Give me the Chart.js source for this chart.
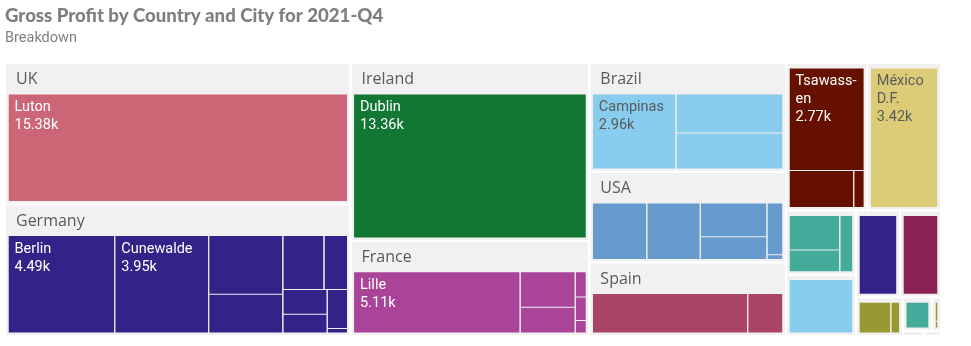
<!DOCTYPE html>
<html>
<head>
<meta charset="utf-8">
<script src="https://cdn.jsdelivr.net/npm/chart.js@4.4.1/dist/chart.umd.min.js"></script>
<style>
  html, body { margin: 0; padding: 0; background: #ffffff; }
  canvas { display: block; }
</style>
</head>
<body>
<canvas id="c" width="971" height="346"></canvas>
<script>
// ---------------- DATA ----------------
const chartTitle = 'Gross Profit by Country and City for 2021-Q4';
const chartSubtitle = 'Breakdown';

// Countries (names of the small unlabeled groups cannot be read from the picture)
const countries = ['UK', 'Germany', 'Ireland', 'France', 'Brazil', 'USA', 'Spain', 'Canada', 'Mexico',
                   '', '', '', '', '', '', '', '', ''];
const countryColors = ['#cc6677', '#332288', '#117733', '#aa4499', '#88ccee', '#6699cc', '#aa4466', '#661100', '#ddcc77',
                       '#44aa99', '#88ccee', '#332288', '#882255', '#999933', '#44aa99', '#999933', '#6699cc', '#aa4466'];

// Cities: index of their country, name (blank where no label is shown), gross profit
const cityCountry = [0,
  1, 1, 1, 1, 1, 1, 1, 1, 1, 1,
  2,
  3, 3, 3, 3, 3, 3,
  4, 4, 4,
  5, 5, 5, 5, 5, 5,
  6, 6,
  7, 7, 7,
  8,
  9, 9, 9,
  10, 11, 12,
  13, 13,
  14,
  15, 15,
  16, 17];
const cities = ['Luton',
  'Berlin', 'Cunewalde', '', '', '', '', '', '', '', '',
  'Dublin',
  'Lille', '', '', '', '', '',
  'Campinas', '', '',
  '', '', '', '', '', '',
  '', '',
  'Tsawassen', '', '',
  'México D.F.',
  '', '', '',
  '', '', '',
  '', '',
  '',
  '', '',
  '', ''];
const grossProfit = [15380,
  4490, 3950, 1880, 1240, 960, 550, 470, 360, 340, 40,
  13360,
  5110, 980, 710, 140, 130, 70,
  2960, 1970, 1810,
  1600, 1570, 1170, 790, 430, 40,
  3700, 840,
  2770, 860, 140,
  3420,
  690, 430, 290,
  1350, 1200, 1120,
  445, 125,
  310,
  70, 25,
  33, 27];

// ---------------- LAYOUT (squarified treemap, golden ratio) ----------------
const AREA_W = 936, AREA_H = 274;
const PHI = (1 + Math.sqrt(5)) / 2;
const TITLE_FONT = 'Lato, "Open Sans", sans-serif';
const HEADER_FONT = '"Open Sans", Roboto, sans-serif';
const LABEL_FONT = 'Roboto, "Open Sans", sans-serif';

function squarify(items, x0, y0, x1, y1) {
  const out = [];
  const n = items.length;
  let value = items.reduce((s, d) => s + d.value, 0);
  let i0 = 0, i1 = 0;
  while (i0 < n) {
    const dx = x1 - x0, dy = y1 - y0;
    let sumValue;
    do { sumValue = items[i1++].value; } while (!sumValue && i1 < n);
    let minV = sumValue, maxV = sumValue;
    const alpha = Math.max(dy / dx, dx / dy) / (value * PHI);
    let beta = sumValue * sumValue * alpha;
    let minRatio = Math.max(maxV / beta, beta / minV);
    for (; i1 < n; ++i1) {
      const v = items[i1].value;
      sumValue += v;
      if (v < minV) minV = v;
      if (v > maxV) maxV = v;
      beta = sumValue * sumValue * alpha;
      const newRatio = Math.max(maxV / beta, beta / minV);
      if (newRatio > minRatio) { sumValue -= v; break; }
      minRatio = newRatio;
    }
    const row = items.slice(i0, i1);
    if (dx < dy) {
      const ny = value ? y0 + dy * sumValue / value : y1;
      const k = sumValue ? (x1 - x0) / sumValue : 0;
      let x = x0;
      row.forEach(d => { const nx = x + d.value * k; out.push({ d, x0: x, y0: y0, x1: nx, y1: ny }); x = nx; });
      y0 = ny;
    } else {
      const nx = value ? x0 + dx * sumValue / value : x1;
      const k = sumValue ? (y1 - y0) / sumValue : 0;
      let y = y0;
      row.forEach(d => { const ny = y + d.value * k; out.push({ d, x0: x0, y0: y, x1: nx, y1: ny }); y = ny; });
      x0 = nx;
    }
    value -= sumValue;
    i0 = i1;
  }
  return out;
}

const groups = countries.map((name, i) => ({ name, color: countryColors[i], children: [], value: 0 }));
cities.forEach((name, i) => groups[cityCountry[i]].children.push({ name, value: grossProfit[i] }));
groups.forEach(g => {
  g.children.sort((a, b) => b.value - a.value);
  g.value = g.children.reduce((s, c) => s + c.value, 0);
});
const sortedGroups = groups.slice().sort((a, b) => b.value - a.value);

const groupRects = squarify(sortedGroups, 0, 0, AREA_W, AREA_H).map(r => ({
  g: r.d, x0: r.x0 + 1, y0: r.y0 + 1, x1: r.x1 - 1, y1: r.y1 - 1
}));
const cellRects = [];
groupRects.forEach(gr => {
  const w = gr.x1 - gr.x0, h = gr.y1 - gr.y0;
  gr.header = !!gr.g.name && w >= 100 && h >= 60;
  const top = gr.header ? 30 : 4;
  const ix0 = gr.x0 + 2, ix1 = gr.x1 - 2, iy0 = gr.y0 + top, iy1 = gr.y1 - 2;
  if (ix1 - ix0 < 1 || iy1 - iy0 < 1) return;
  squarify(gr.g.children, ix0, iy0, ix1, iy1).forEach(r => {
    cellRects.push({ c: r.d, color: gr.g.color, x0: r.x0 + 0.5, y0: r.y0 + 0.5, x1: r.x1 - 0.5, y1: r.y1 - 0.5 });
  });
});

function rectDataset(r, color, order) {
  return {
    data: [{ x: r.x0, y: r.y0 }, { x: r.x1, y: r.y0 }],
    backgroundColor: color,
    borderColor: 'rgba(0,0,0,0)',
    borderWidth: 0,
    pointRadius: 0,
    pointHoverRadius: 0,
    tension: 0,
    fill: { value: r.y1 },
    order
  };
}

const datasets = [
  ...cellRects.map(r => rectDataset(r, r.color, 0)),
  ...groupRects.map(r => rectDataset(r, '#f1f1f1', 1))
];

function isLight(hex) {
  const n = parseInt(hex.slice(1), 16);
  const r = (n >> 16) & 255, g = (n >> 8) & 255, b = n & 255;
  return (0.299 * r + 0.587 * g + 0.114 * b) > 160;
}

function wrapText(ctx, text, maxW) {
  const words = text.split(' ');
  const lines = [];
  let cur = '';
  words.forEach(w => {
    const test = cur ? cur + ' ' + w : w;
    if (!cur || ctx.measureText(test).width <= maxW) cur = test;
    else { lines.push(cur); cur = w; }
  });
  if (cur) lines.push(cur);
  const out = [];
  lines.forEach(line => {
    let rest = line;
    while (ctx.measureText(rest).width > maxW && rest.length > 2) {
      let k = rest.length - 1;
      while (k > 1 && ctx.measureText(rest.slice(0, k) + '-').width > maxW) k--;
      out.push(rest.slice(0, k) + '-');
      rest = rest.slice(k);
    }
    out.push(rest);
  });
  return out;
}

const labelPlugin = {
  id: 'treemapLabels',
  afterDatasetsDraw(chart) {
    const ctx = chart.ctx;
    const xs = chart.scales.x, ys = chart.scales.y;
    ctx.save();
    ctx.textBaseline = 'alphabetic';
    ctx.textAlign = 'left';
    groupRects.forEach(gr => {
      if (!gr.header) return;
      ctx.font = '16px ' + HEADER_FONT;
      ctx.fillStyle = '#5a5a5a';
      ctx.fillText(gr.g.name, xs.getPixelForValue(gr.x0) + 10, ys.getPixelForValue(gr.y0) + 20);
    });
    cellRects.forEach(cr => {
      if (!cr.c.name) return;
      const left = xs.getPixelForValue(cr.x0), right = xs.getPixelForValue(cr.x1);
      const top = ys.getPixelForValue(cr.y0);
      ctx.font = '14.5px ' + LABEL_FONT;
      ctx.fillStyle = isLight(cr.color) ? '#5a5a5a' : '#ffffff';
      const lines = wrapText(ctx, cr.c.name, right - left - 8);
      lines.push((cr.c.value / 1000).toFixed(2) + 'k');
      lines.forEach((t, i) => ctx.fillText(t, left + 6, top + 17 + i * 17.8));
    });
    ctx.restore();
  }
};

new Chart(document.getElementById('c'), {
  type: 'line',
  data: { datasets },
  options: {
    responsive: false,
    animation: false,
    devicePixelRatio: 1,
    events: [],
    layout: { padding: { left: 5, right: 30, top: 0, bottom: 10 } },
    scales: {
      x: { type: 'linear', min: 0, max: AREA_W, display: false },
      y: { type: 'linear', min: 0, max: AREA_H, reverse: true, display: false }
    },
    plugins: {
      legend: { display: false },
      tooltip: { enabled: false },
      title: {
        display: true, text: chartTitle, align: 'start', color: '#7f7f7f',
        font: { family: TITLE_FONT, size: 18.6, weight: '900', lineHeight: 1.2 },
        padding: { top: 5, bottom: 0 }
      },
      subtitle: {
        display: true, text: chartSubtitle, align: 'start', color: '#808080',
        font: { family: LABEL_FONT, size: 14.5, weight: 'normal', lineHeight: 1.2 },
        padding: { top: 2, bottom: 16.3 }
      }
    }
  },
  plugins: [labelPlugin]
});
</script>
</body>
</html>
